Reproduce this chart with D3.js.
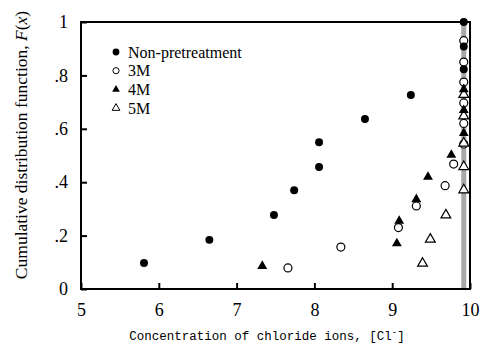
<!DOCTYPE html>
<html><head><meta charset="utf-8">
<script src="https://cdn.jsdelivr.net/npm/d3@7"></script>
<style>
html,body{margin:0;padding:0;background:#fff;}
svg{display:block;}
</style>
</head><body>
<svg id="chart" width="487" height="350"></svg>
<script>
// ---- data ----
const xTicks = [5, 6, 7, 8, 9, 10];
const yTicks = [0, 0.2, 0.4, 0.6, 0.8, 1];
const yTickLabels = ["0", ".2", ".4", ".6", ".8", "1"];
const seriesNames = ["Non-pretreatment", "3M", "4M", "5M"];

const nonX = [5.81, 6.65, 7.48, 7.74, 8.06, 8.06, 8.65, 9.24, 9.92, 9.92, 9.92];
const nonF = [0.097, 0.184, 0.277, 0.37, 0.457, 0.55, 0.637, 0.727, 0.823, 0.908, 1.0];

const m3X = [7.66, 8.34, 9.08, 9.31, 9.68, 9.79, 9.92, 9.92, 9.92, 9.92, 9.92, 9.92];
const m3F = [0.079, 0.157, 0.23, 0.311, 0.387, 0.468, 0.543, 0.62, 0.697, 0.775, 0.85, 0.93];

const m4X = [7.33, 9.06, 9.09, 9.31, 9.46, 9.76, 9.92, 9.92, 9.92];
const m4F = [0.086, 0.171, 0.255, 0.336, 0.42, 0.502, 0.584, 0.67, 0.748];

const m5X = [9.39, 9.49, 9.69, 9.92, 9.92, 9.92, 9.92, 9.92];
const m5F = [0.096, 0.186, 0.277, 0.371, 0.458, 0.546, 0.648, 0.728];

const bandX = 9.92;

// ---- chart ----
const svg = d3.select("#chart");
const x = d3.scaleLinear().domain([5, 10]).range([81, 470]);
const y = d3.scaleLinear().domain([0, 1]).range([289, 22]);

const serif = "'Liberation Serif', 'Times New Roman', serif";

// gray band
svg.append("rect")
  .attr("x", x(bandX) - 2.5).attr("width", 5)
  .attr("y", y(1)).attr("height", y(0) - y(1))
  .attr("fill", "#a8a8a8");

// frame
svg.append("rect")
  .attr("x", x(5)).attr("y", y(1))
  .attr("width", x(10) - x(5)).attr("height", y(0) - y(1))
  .attr("fill", "none").attr("stroke", "#000").attr("stroke-width", 2);

// axes (ticks inward)
const xAxis = d3.axisBottom(x).tickValues(xTicks).tickSizeInner(-6).tickSizeOuter(0).tickPadding(14)
  .tickFormat(d3.format("d"));
const gx = svg.append("g").attr("transform", `translate(0,${y(0)})`).call(xAxis);
gx.select(".domain").remove();
gx.selectAll(".tick line").attr("stroke", "#000").attr("stroke-width", 2);
gx.selectAll(".tick text").attr("font-family", serif).attr("font-size", 18).attr("fill", "#000");

const yAxis = d3.axisLeft(y).tickValues(yTicks).tickSizeInner(-6).tickSizeOuter(0).tickPadding(13)
  .tickFormat((d, i) => yTickLabels[i]);
const gy = svg.append("g").attr("transform", `translate(${x(5)},0)`).call(yAxis);
gy.select(".domain").remove();
gy.selectAll(".tick line").attr("stroke", "#000").attr("stroke-width", 2);
gy.selectAll(".tick text").attr("font-family", serif).attr("font-size", 18).attr("fill", "#000");

// symbols
const circ = d3.symbol().type(d3.symbolCircle).size(50);
const tri = d3.symbol().type(d3.symbolTriangle).size(42);

function drawSeries(xs, fs, gen, filled) {
  svg.append("g").selectAll("path").data(xs.map((v, i) => [v, fs[i]])).join("path")
    .attr("transform", d => `translate(${x(d[0])},${y(d[1])})`)
    .attr("d", gen())
    .attr("fill", filled ? "#000" : "#fff")
    .attr("stroke", "#000").attr("stroke-width", filled ? 0 : 1.2);
}
drawSeries(m3X, m3F, circ, false);
drawSeries(m5X, m5F, tri, false);
drawSeries(m4X, m4F, tri, true);
drawSeries(nonX, nonF, circ, true);

// legend
const legend = svg.append("g");
const legSyms = [
  {gen: d3.symbol().type(d3.symbolCircle).size(36), filled: true},
  {gen: d3.symbol().type(d3.symbolCircle).size(30), filled: false},
  {gen: d3.symbol().type(d3.symbolTriangle).size(26), filled: true},
  {gen: d3.symbol().type(d3.symbolTriangle).size(26), filled: false}
];
seriesNames.forEach((name, i) => {
  const ly = 52 + i * 18.7;
  legend.append("path").attr("transform", `translate(116,${ly})`)
    .attr("d", legSyms[i].gen())
    .attr("fill", legSyms[i].filled ? "#000" : "#fff")
    .attr("stroke", "#000").attr("stroke-width", legSyms[i].filled ? 0 : 1);
  legend.append("text").attr("x", 128).attr("y", ly + 5.5)
    .attr("font-family", serif).attr("font-size", 16).attr("fill", "#000")
    .text(name);
});

// x title
const xt = svg.append("text").attr("x", 267).attr("y", 340).attr("text-anchor", "middle")
  .attr("font-family", "'Liberation Mono', 'DejaVu Sans Mono', monospace").attr("font-size", 12.5)
  .attr("fill", "#000");
xt.append("tspan").text("Concentration of chloride ions, [Cl");
xt.append("tspan").attr("dy", -5).attr("font-size", 9).text("-");
xt.append("tspan").attr("dy", 5).text("]");

// y title
const yt = svg.append("text").attr("transform", "translate(27,145) rotate(-90)")
  .attr("text-anchor", "middle").attr("font-family", serif).attr("font-size", 17.5).attr("fill", "#000");
yt.append("tspan").text("Cumulative distribution function, ");
yt.append("tspan").attr("font-style", "italic").text("F");
yt.append("tspan").text("(");
yt.append("tspan").attr("font-style", "italic").text("x");
yt.append("tspan").text(")");
</script>
</body></html>
